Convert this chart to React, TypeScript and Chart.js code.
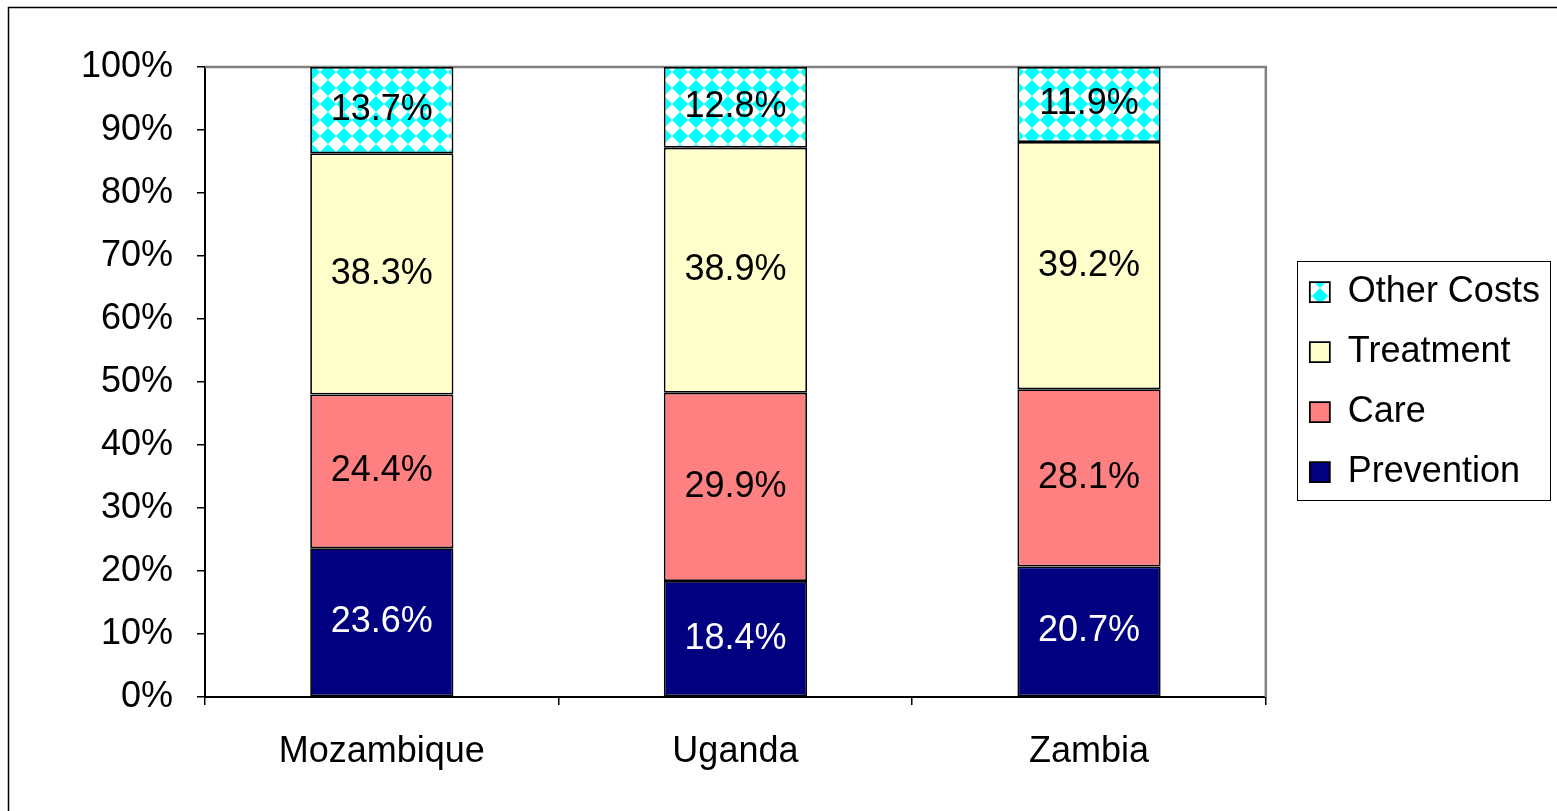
import React, { useEffect, useRef } from "react";
import { Chart, registerables } from "chart.js";

Chart.register(...registerables);

const countries = ["Mozambique", "Uganda", "Zambia"];
const prevention = [23.6, 18.4, 20.7];
const care = [24.4, 29.9, 28.1];
const treatment = [38.3, 38.9, 39.2];
const otherCosts = [13.7, 12.8, 11.9];
const yTicks = [0, 10, 20, 30, 40, 50, 60, 70, 80, 90, 100];

const FONT = "'Liberation Sans', Arial, sans-serif";
const FS = 36;

function makePattern(): CanvasPattern | string {
  const c = document.createElement("canvas");
  c.width = 16;
  c.height = 16;
  const g = c.getContext("2d");
  if (!g) return "#00FFFF";
  g.fillStyle = "#FFFFFF";
  g.fillRect(0, 0, 16, 16);
  g.fillStyle = "#00FFFF";
  g.beginPath();
  g.moveTo(8, 0);
  g.lineTo(16, 8);
  g.lineTo(8, 16);
  g.lineTo(0, 8);
  g.closePath();
  g.fill();
  const p = g.createPattern(c, "repeat");
  return p || "#00FFFF";
}

export default function App() {
  const ref = useRef<HTMLCanvasElement | null>(null);

  useEffect(() => {
    const canvas = ref.current;
    if (!canvas) return;
    document.body.style.margin = "0";
    const pattern = makePattern();

    const totals = countries.map(
      (_, i) => prevention[i] + care[i] + treatment[i] + otherCosts[i]
    );
    const norm = (arr: number[]) => arr.map((v, i) => (v / totals[i]) * 100);

    const raw = [prevention, care, treatment, otherCosts];
    const labelColors = ["#FFFFFF", "#000000", "#000000", "#000000"];

    const decor = {
      id: "decor",
      beforeDraw(chart: any) {
        const ctx = chart.ctx;
        ctx.save();
        ctx.fillStyle = "#FFFFFF";
        ctx.fillRect(0, 0, chart.width, chart.height);
        ctx.strokeStyle = "#000000";
        ctx.lineWidth = 1.5;
        ctx.strokeRect(8.5, 7.5, chart.width + 20, chart.height + 20);
        ctx.restore();
      },
      beforeDatasetsDraw(chart: any) {
        const ctx = chart.ctx;
        const a = chart.chartArea;
        ctx.save();
        ctx.strokeStyle = "#808080";
        ctx.lineWidth = 2.5;
        ctx.beginPath();
        ctx.moveTo(a.left, a.top);
        ctx.lineTo(a.right, a.top);
        ctx.lineTo(a.right, a.bottom);
        ctx.stroke();
        ctx.restore();
      },
      afterDatasetsDraw(chart: any) {
        const ctx = chart.ctx;
        ctx.save();
        ctx.font = `${FS}px ${FONT}`;
        ctx.textAlign = "center";
        ctx.textBaseline = "middle";
        chart.data.datasets.forEach((ds: any, di: number) => {
          const meta = chart.getDatasetMeta(di);
          meta.data.forEach((el: any, i: number) => {
            const y = (el.y + el.base) / 2;
            ctx.fillStyle = labelColors[di];
            ctx.fillText(raw[di][i].toFixed(1) + "%", el.x, y);
          });
        });
        ctx.restore();
      },
      afterDraw(chart: any) {
        const lg = chart.legend;
        if (!lg || !lg.legendHitBoxes || !lg.legendHitBoxes.length) return;
        const hb = lg.legendHitBoxes;
        let l = Infinity, r = -Infinity, t = Infinity, b = -Infinity;
        hb.forEach((h: any) => {
          l = Math.min(l, h.left);
          r = Math.max(r, h.left + h.width);
          t = Math.min(t, h.top);
          b = Math.max(b, h.top + h.height);
        });
        const ctx = chart.ctx;
        ctx.save();
        ctx.strokeStyle = "#000000";
        ctx.lineWidth = 1;
        const x0 = Math.round(l - 13) + 0.5;
        const y0 = Math.round(t - 13) + 0.5;
        const x1 = Math.round(r + 10) + 0.5;
        const y1 = Math.round(b + 10) + 0.5;
        ctx.strokeRect(x0, y0, x1 - x0, y1 - y0);
        ctx.restore();
      },
    };

    const chart = new Chart(canvas, {
      type: "bar",
      data: {
        labels: countries,
        datasets: [
          {
            label: "Prevention",
            data: norm(prevention),
            backgroundColor: "#000080",
            borderColor: "#000000",
            borderWidth: 1.75,
            borderSkipped: false,
          },
          {
            label: "Care",
            data: norm(care),
            backgroundColor: "#FF8080",
            borderColor: "#000000",
            borderWidth: 1.75,
            borderSkipped: false,
          },
          {
            label: "Treatment",
            data: norm(treatment),
            backgroundColor: "#FFFFCC",
            borderColor: "#000000",
            borderWidth: 1.75,
            borderSkipped: false,
          },
          {
            label: "Other Costs",
            data: norm(otherCosts),
            backgroundColor: pattern as any,
            borderColor: "#000000",
            borderWidth: 1.75,
            borderSkipped: false,
          },
        ],
      },
      options: {
        responsive: false,
        animation: false,
        events: [],
        datasets: {
          bar: { categoryPercentage: 1, barPercentage: 0.405 },
        },
        layout: { padding: { left: 0, top: 67, right: 14, bottom: 0 } },
        scales: {
          x: {
            stacked: true,
            grid: {
              offset: true,
              drawOnChartArea: false,
              drawTicks: true,
              tickLength: 8,
              color: "#000000",
              lineWidth: 1.5,
            },
            border: { display: true, color: "#000000", width: 2 },
            ticks: {
              color: "#000000",
              font: { size: FS, family: FONT },
              padding: 25,
              maxRotation: 0,
            },
            afterFit(scale: any) {
              scale.height = 811 - 697;
            },
          },
          y: {
            stacked: true,
            min: 0,
            max: 100,
            afterBuildTicks(scale: any) {
              scale.ticks = yTicks.map((v) => ({ value: v }));
            },
            grid: {
              drawOnChartArea: false,
              drawTicks: true,
              tickLength: 8,
              color: "#000000",
              lineWidth: 1.5,
            },
            border: { display: true, color: "#000000", width: 2 },
            ticks: {
              color: "#000000",
              font: { size: FS, family: FONT },
              padding: 24,
              callback: (v: any) => v + "%",
            },
            afterFit(scale: any) {
              scale.width = 205;
            },
          },
          gap: {
            type: "linear",
            position: "right",
            display: true,
            grid: { display: false, drawTicks: false },
            border: { display: false },
            ticks: { display: false },
            afterFit(scale: any) {
              scale.width = 20;
            },
          },
        },
        plugins: {
          legend: {
            position: "right",
            fullSize: false,
            reverse: true,
            labels: {
              color: "#000000",
              font: { size: FS, family: FONT },
              boxWidth: 20,
              boxHeight: 20,
              padding: 24,
            },
          },
          tooltip: { enabled: false },
        },
      },
      plugins: [decor],
    } as any);

    return () => chart.destroy();
  }, []);

  return (
    <div style={{ position: "fixed", left: 0, top: 0, width: 1557, height: 811 }}>
      <canvas ref={ref} width={1557} height={811} style={{ display: "block" }} />
    </div>
  );
}
